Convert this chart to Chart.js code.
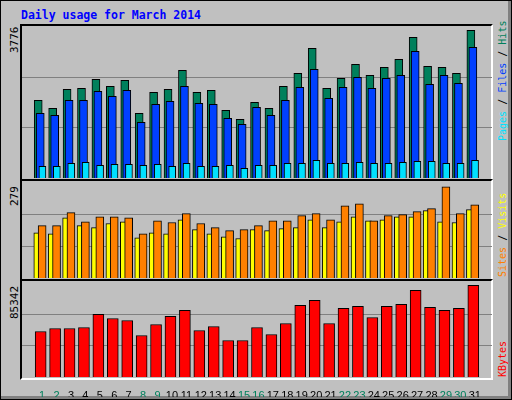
<!DOCTYPE html>
<html>
<head>
<meta charset="utf-8">
<script src="https://cdn.jsdelivr.net/npm/chart.js@4"></script>
<style>
  body { margin: 0; background: #fff; }
  #wrap { position: relative; width: 510px; height: 398px; background: #c0c0c0;
          border: 1px solid #000; box-shadow: inset -3px -3px 0 #808080; font-family: "DejaVu Sans Mono", monospace; }
  .frame { position: absolute; border-top: 2px solid #000; border-left: 2px solid #000;
           border-right: 2px solid #fff; border-bottom: 2px solid #fff; box-sizing: border-box; }
  canvas { position: absolute; }
  .title { position: absolute; left: 20px; top: 7px; color: #0000ff; font-weight: bold; font-size: 11.5px; }
  .rot { position: absolute; transform-origin: left top; transform: rotate(-90deg); white-space: nowrap; font-size: 10px; }
</style>
</head>
<body>
<div id="wrap">
  <div class="title">Daily usage for March 2014</div>
  <div class="frame" style="left:19px;top:23px;width:473px;height:157px"></div>
  <div class="frame" style="left:19px;top:178px;width:473px;height:102px"></div>
  <div class="frame" style="left:19px;top:278px;width:473px;height:101px"></div>
  <div class="rot" style="left:7px;top:52px;color:#000;font-size:11px">3776</div>
  <div class="rot" style="left:7px;top:205px;color:#000;font-size:11px">279</div>
  <div class="rot" style="left:7px;top:318px;color:#000;font-size:11px">85342</div>
  <div class="rot" style="left:496px;top:140px"><span style="color:#00e0ff">Pages</span> / <span style="color:#0040ff">Files</span> / <span style="color:#00805c">Hits</span></div>
  <div class="rot" style="left:496px;top:276px"><span style="color:#ff8000">Sites</span> / <span style="color:#ffff00">Visits</span></div>
  <div class="rot" style="left:496px;top:376px;color:#ff0000">KBytes</div>
  <canvas id="c1" width="470" height="152" style="left:21px;top:25px"></canvas>
  <canvas id="c2" width="470" height="96" style="left:21px;top:181px"></canvas>
  <canvas id="c3" width="470" height="115" style="left:21px;top:281px"></canvas>
</div>
<script>
const days = [1,2,3,4,5,6,7,8,9,10,11,12,13,14,15,16,17,18,19,20,21,22,23,24,25,26,27,28,29,30,31];
const weekends = [1,2,8,9,15,16,22,23,29,30];
const hits = [1930,1731,2203,2228,2452,2278,2427,1607,2129,2203,2675,2129,2178,1682,1458,1880,1731,2278,2601,3222,2228,2477,2824,2551,2750,2949,3495,2775,2750,2601,3669];
const files = [1607,1557,1930,1930,2154,2030,2178,1384,1831,1905,2278,1856,1831,1483,1334,1756,1557,1930,2253,2700,1980,2253,2501,2228,2477,2551,3147,2328,2551,2352,3247];
const pages = [291,291,365,390,315,340,340,315,340,291,365,291,291,315,241,315,315,365,365,440,365,365,390,365,365,390,415,415,365,365,440];
const visits = [133,130,177,154,148,160,165,118,133,130,171,142,130,121,116,142,139,145,148,171,148,165,180,168,171,180,180,198,165,163,201];
const sites = [154,154,192,165,180,180,177,130,168,163,189,160,148,139,142,154,168,168,183,189,171,212,218,168,183,186,195,204,268,189,215];
const kbytes = [42364,45168,45168,46102,58251,54513,52644,38626,48906,56382,61989,43299,47037,33954,33954,46102,39561,49840,66661,71334,49840,63858,65727,55447,65727,67596,80679,64792,61989,63858,85342];

// grey lines at 1/3 and 2/3 of the panel, drawn behind the bars
const thirds = {
  id: 'thirds',
  beforeDatasetsDraw(chart) {
    const { ctx, chartArea, scales } = chart;
    const max = scales.y.max;
    ctx.save();
    ctx.strokeStyle = '#808080';
    ctx.lineWidth = 1;
    [max / 3, max * 2 / 3].forEach(v => {
      const y = Math.round(scales.y.getPixelForValue(v)) + 0.5;
      ctx.beginPath();
      ctx.moveTo(chartArea.left, y);
      ctx.lineTo(chartArea.right, y);
      ctx.stroke();
    });
    ctx.restore();
  }
};

function pts(vals, off) { return vals.map((v, i) => ({ x: days[i] + off, y: v })); }
function ds(vals, off, color, w, order) {
  return { data: pts(vals, off), backgroundColor: color, borderColor: '#000', borderWidth: 1,
           barThickness: w, grouped: false, order: order, borderSkipped: 'bottom' };
}
function opts(max, showX) {
  const x = {
    type: 'linear', min: 0.13, max: 31.67, display: showX,
    grid: { display: false }, border: { display: false },
    afterBuildTicks: s => { s.ticks = days.map(d => ({ value: d })); },
    ticks: {
      autoSkip: false, maxRotation: 0, padding: 4,
      font: { family: 'Liberation Sans', size: 11 },
      color: c => weekends.includes(c.tick.value) ? '#00805c' : '#000'
    }
  };
  if (showX) x.afterFit = s => { s.height = 20; };
  return {
    responsive: false, animation: false,
    layout: { padding: 0 },
    plugins: { legend: { display: false }, tooltip: { enabled: false } },
    scales: { x: x, y: { min: 0, max: max, display: false } }
  };
}

new Chart(document.getElementById('c1'), {
  type: 'bar',
  data: { datasets: [
    ds(hits, -0.27, '#00805c', 8, 3),
    ds(files, -0.13, '#0040ff', 8, 2),
    ds(pages, 0.02, '#00e0ff', 7, 1)
  ] },
  options: opts(3776, false),
  plugins: [thirds]
});
new Chart(document.getElementById('c2'), {
  type: 'bar',
  data: { datasets: [
    ds(visits, -0.37, '#ffff00', 6, 2),
    ds(sites, 0, '#ff8000', 8, 1)
  ] },
  options: opts(282, false),
  plugins: [thirds]
});
new Chart(document.getElementById('c3'), {
  type: 'bar',
  data: { datasets: [ ds(kbytes, -0.1, '#ff0000', 11, 1) ] },
  options: opts(88466, true),
  plugins: [thirds]
});
</script>
</body>
</html>
